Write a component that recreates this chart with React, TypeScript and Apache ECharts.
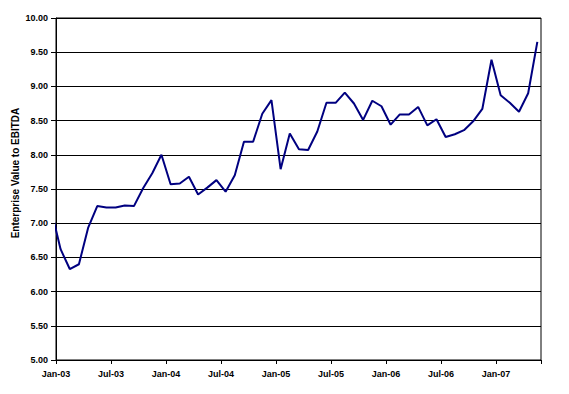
import React, { useEffect, useRef } from "react";
import * as echarts from "echarts";

// Monthly observations (plotted mid-month); Dec-02 lies just left of the axis and is clipped
const months: string[] = [
  "2002-12",
  "2003-01", "2003-02", "2003-03", "2003-04", "2003-05", "2003-06",
  "2003-07", "2003-08", "2003-09", "2003-10", "2003-11", "2003-12",
  "2004-01", "2004-02", "2004-03", "2004-04", "2004-05", "2004-06",
  "2004-07", "2004-08", "2004-09", "2004-10", "2004-11", "2004-12",
  "2005-01", "2005-02", "2005-03", "2005-04", "2005-05", "2005-06",
  "2005-07", "2005-08", "2005-09", "2005-10", "2005-11", "2005-12",
  "2006-01", "2006-02", "2006-03", "2006-04", "2006-05", "2006-06",
  "2006-07", "2006-08", "2006-09", "2006-10", "2006-11", "2006-12",
  "2007-01", "2007-02", "2007-03", "2007-04", "2007-05",
];

const evEbitda: number[] = [
  7.18,
  6.62, 6.33, 6.40, 6.93, 7.25, 7.23,
  7.23, 7.26, 7.25, 7.51, 7.73, 8.00,
  7.57, 7.58, 7.68, 7.42, 7.52, 7.63,
  7.46, 7.70, 8.19, 8.19, 8.60, 8.80,
  7.79, 8.31, 8.08, 8.07, 8.34, 8.76,
  8.76, 8.91, 8.75, 8.51, 8.79, 8.71,
  8.44, 8.59, 8.59, 8.70, 8.43, 8.52,
  8.26, 8.30, 8.36, 8.49, 8.67, 9.39,
  8.87, 8.76, 8.63, 8.90, 9.65,
];

const xTickLabels: string[] = [
  "Jan-03", "Jul-03", "Jan-04", "Jul-04", "Jan-05",
  "Jul-05", "Jan-06", "Jul-06", "Jan-07",
];

const yTitle = "Enterprise Value to EBITDA";

const FONT = "'Liberation Sans', Arial, sans-serif";

function monthIndex(s: string): number {
  const [y, m] = s.split("-").map(Number);
  return (y - 2003) * 12 + (m - 1);
}

export default function App() {
  const ref = useRef<HTMLDivElement>(null);

  useEffect(() => {
    if (!ref.current) return;
    const chart = echarts.init(ref.current, null, { renderer: "svg" });
    const data = months.map((m, i) => [monthIndex(m) + 0.5, evEbitda[i]]);

    chart.setOption({
      animation: false,
      backgroundColor: "#ffffff",
      textStyle: { fontFamily: FONT },
      grid: {
        left: 56,
        top: 18,
        width: 485,
        height: 342,
        show: true,
        borderColor: "#000",
        borderWidth: 1,
        backgroundColor: "transparent",
      },
      xAxis: {
        type: "value",
        min: 0,
        max: 52.9,
        interval: 6,
        axisLine: { show: true, lineStyle: { color: "#000", width: 1 } },
        axisTick: { show: true, length: 4, lineStyle: { color: "#000" } },
        splitLine: { show: false },
        axisLabel: {
          margin: 9,
          fontSize: 9,
          fontWeight: "bold",
          color: "#000",
          fontFamily: FONT,
          formatter: (v: number) => {
            const k = Math.round(v);
            if (Math.abs(v - k) > 1e-6 || k % 6 !== 0) return "";
            return xTickLabels[k / 6] ?? "";
          },
        },
      },
      yAxis: {
        type: "value",
        min: 5,
        max: 10,
        interval: 0.5,
        axisLine: { show: true, lineStyle: { color: "#000", width: 1 } },
        axisTick: { show: true, length: 5, lineStyle: { color: "#000" } },
        splitLine: { show: true, lineStyle: { color: "#000", width: 1 } },
        axisLabel: {
          margin: 8,
          fontSize: 9,
          fontWeight: "bold",
          color: "#000",
          fontFamily: FONT,
          formatter: (v: number) => v.toFixed(2),
        },
      },
      graphic: [
        {
          type: "text",
          x: 15,
          y: 173,
          rotation: Math.PI / 2,
          style: {
            text: yTitle,
            fontSize: 10,
            fontWeight: "bold",
            fontFamily: FONT,
            fill: "#000",
            align: "center",
            verticalAlign: "middle",
          },
        },
      ],
      series: [
        {
          type: "line",
          data,
          clip: true,
          showSymbol: false,
          symbol: "none",
          lineStyle: { color: "#000080", width: 2 },
        },
      ],
    });

    return () => chart.dispose();
  }, []);

  return (
    <div
      ref={ref}
      style={{ position: "fixed", left: 0, top: 0, width: 569, height: 394, background: "#fff" }}
    />
  );
}
